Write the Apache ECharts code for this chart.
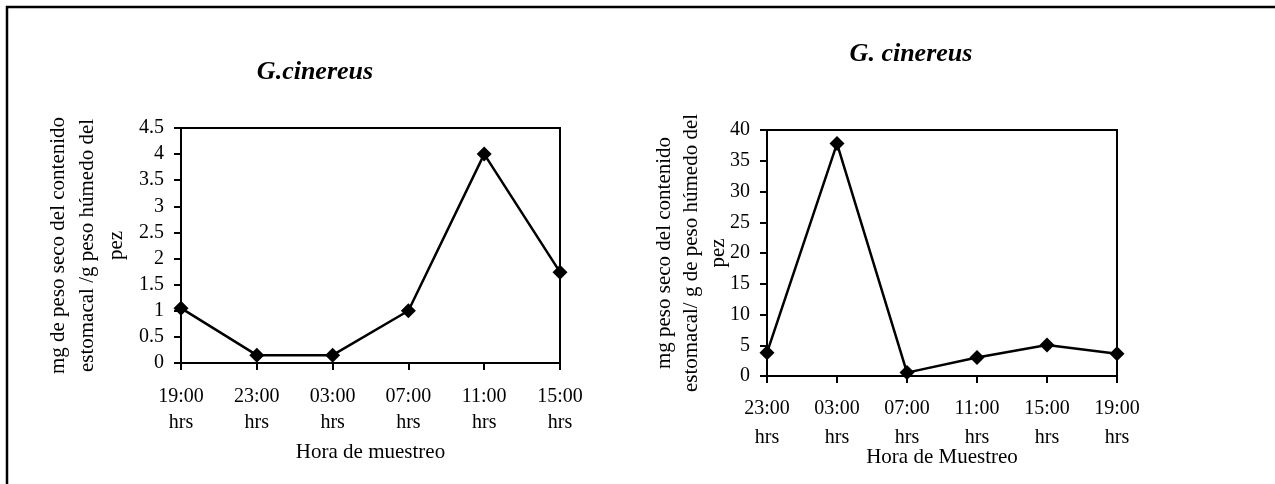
<!DOCTYPE html>
<html>
<head>
<meta charset="utf-8">
<script src="https://cdn.jsdelivr.net/npm/echarts@6/dist/echarts.min.js"></script>
<style>
html,body{margin:0;padding:0;background:#fff;}
#c{width:1275px;height:484px;}
</style>
</head>
<body>
<div id="c"></div>
<script>
// ---- data ----
const leftTitle = 'G.cinereus';
const rightTitle = 'G. cinereus';
const leftCategories = ['19:00\nhrs', '23:00\nhrs', '03:00\nhrs', '07:00\nhrs', '11:00\nhrs', '15:00\nhrs'];
const leftValues = [1.05, 0.15, 0.15, 1.0, 4.0, 1.74];
const rightCategories = ['23:00\nhrs', '03:00\nhrs', '07:00\nhrs', '11:00\nhrs', '15:00\nhrs', '19:00\nhrs'];
const rightValues = [3.8, 37.8, 0.55, 3.0, 5.05, 3.6];
const leftYName = 'mg de peso seco del contenido\nestomacal /g peso húmedo del\npez';
const rightYName = 'mg peso seco del contenido\nestomacal/ g de peso húmedo del\npez';
const leftXName = 'Hora de muestreo';
const rightXName = 'Hora de Muestreo';

const FONT = 'Liberation Serif';
const chart = echarts.init(document.getElementById('c'));

function xAxis(idx, cats, name, gap, lh, margin) {
  return {
    type: 'category', gridIndex: idx, data: cats, boundaryGap: false,
    axisLine: {show: true, lineStyle: {color: '#000', width: 2}},
    axisTick: {show: true, inside: false, length: 7, lineStyle: {color: '#000', width: 2}, alignWithLabel: true},
    axisLabel: {interval: 0, color: '#000', fontFamily: FONT, fontSize: 20, lineHeight: lh, margin: margin},
    splitLine: {show: false},
    name: name, nameLocation: 'middle', nameGap: gap, nameMoveOverlap: false,
    nameTextStyle: {color: '#000', fontFamily: FONT, fontSize: 21}
  };
}
function yAxis(idx, max, interval, name, gap, lh) {
  return {
    type: 'value', gridIndex: idx, min: 0, max: max, interval: interval,
    axisLine: {show: true, lineStyle: {color: '#000', width: 2}},
    axisTick: {show: true, length: 7, lineStyle: {color: '#000', width: 2}},
    axisLabel: {color: '#000', fontFamily: FONT, fontSize: 20, margin: 17},
    splitLine: {show: false},
    name: name, nameLocation: 'middle', nameGap: gap, nameRotate: 90, nameMoveOverlap: false,
    nameTextStyle: {color: '#000', fontFamily: FONT, fontSize: 21, lineHeight: lh, align: 'center'}
  };
}

const option = {
  backgroundColor: '#fff',
  animation: false,
  title: [
    {text: leftTitle, left: 310, top: 54, textAlign: 'center',
     textStyle: {fontFamily: FONT, fontSize: 26, fontStyle: 'italic', fontWeight: 'bold', color: '#000'}},
    {text: rightTitle, left: 906, top: 36, textAlign: 'center',
     textStyle: {fontFamily: FONT, fontSize: 26, fontStyle: 'italic', fontWeight: 'bold', color: '#000'}}
  ],
  grid: [
    {left: 181, top: 128, right: 1275 - 560, bottom: 484 - 363, show: true, borderColor: '#000', borderWidth: 2, backgroundColor: 'transparent'},
    {left: 767, top: 130, right: 1275 - 1117, bottom: 484 - 376, show: true, borderColor: '#000', borderWidth: 2, backgroundColor: 'transparent'}
  ],
  xAxis: [
    xAxis(0, leftCategories, leftXName, 79, 26, 21),
    xAxis(1, rightCategories, rightXName, 71, 29, 18)
  ],
  yAxis: [
    yAxis(0, 4.5, 0.5, leftYName, 50, 29),
    yAxis(1, 40, 5, rightYName, 35, 27)
  ],
  graphic: [
    {type: 'rect', shape: {x: 7, y: 7, width: 1400, height: 600}, style: {fill: 'none', stroke: '#000', lineWidth: 2.5}, silent: true}
  ],
  series: [
    {type: 'line', xAxisIndex: 0, yAxisIndex: 0, data: leftValues, symbol: 'diamond', symbolSize: 15,
     lineStyle: {color: '#000', width: 2.5}, itemStyle: {color: '#000'}},
    {type: 'line', xAxisIndex: 1, yAxisIndex: 1, data: rightValues, symbol: 'diamond', symbolSize: 15,
     lineStyle: {color: '#000', width: 2.5}, itemStyle: {color: '#000'}}
  ]
};
chart.setOption(option);
</script>
</body>
</html>
